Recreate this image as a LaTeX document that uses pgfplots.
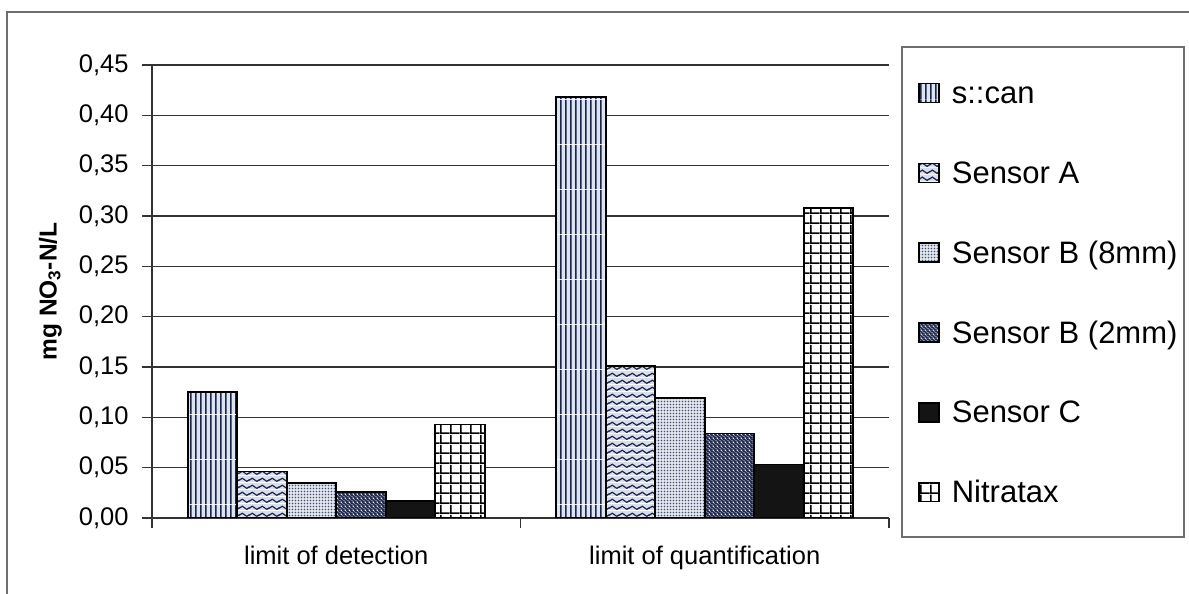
\documentclass[border=0pt]{standalone}
\usepackage{fontspec}
\setmainfont{Liberation Sans}
\usepackage{pgfplots}
\pgfplotsset{compat=1.18}
\usetikzlibrary{patterns}

\definecolor{axcol}{HTML}{333333}
\definecolor{framecol}{HTML}{6E6E6E}
\definecolor{navy}{HTML}{1C2448}
\definecolor{bgscan}{HTML}{DCE4F2}
\definecolor{bgA}{HTML}{D8DEEC}
\definecolor{bgB8}{HTML}{E2E7F0}
\definecolor{dotB8}{HTML}{48506E}
\definecolor{bgB2}{HTML}{8C92A8}

% patterns with their own colours (background + marks)
\pgfdeclarepatterninherentlycolored{scan}{\pgfqpoint{0pt}{0pt}}{\pgfqpoint{5pt}{45pt}}{\pgfqpoint{5pt}{45pt}}{%
  \pgfsetfillcolor{bgscan}\pgfpathrectangle{\pgfpointorigin}{\pgfqpoint{5pt}{45pt}}\pgfusepath{fill}%
  \pgfsetfillcolor{navy}\pgfpathrectangle{\pgfpointorigin}{\pgfqpoint{1.8pt}{45pt}}\pgfusepath{fill}}
\pgfdeclarepatterninherentlycolored{waves}{\pgfqpoint{0pt}{0pt}}{\pgfqpoint{10pt}{7pt}}{\pgfqpoint{10pt}{7pt}}{%
  \pgfsetfillcolor{bgA}\pgfpathrectangle{\pgfpointorigin}{\pgfqpoint{10pt}{7pt}}\pgfusepath{fill}%
  \pgfsetstrokecolor{navy}\pgfsetlinewidth{1.3pt}%
  \pgfpathmoveto{\pgfqpoint{-0.5pt}{2.3pt}}%
  \pgfpathlineto{\pgfqpoint{0pt}{2.5pt}}%
  \pgfpathsine{\pgfqpoint{2.5pt}{1.8pt}}%
  \pgfpathcosine{\pgfqpoint{2.5pt}{-1.8pt}}%
  \pgfpathsine{\pgfqpoint{2.5pt}{-1.8pt}}%
  \pgfpathcosine{\pgfqpoint{2.5pt}{1.8pt}}%
  \pgfpathlineto{\pgfqpoint{10.5pt}{2.7pt}}%
  \pgfusepath{stroke}}
\pgfdeclarepatterninherentlycolored{dotsB}{\pgfqpoint{0pt}{0pt}}{\pgfqpoint{3.4pt}{3.4pt}}{\pgfqpoint{3.4pt}{3.4pt}}{%
  \pgfsetfillcolor{bgB8}\pgfpathrectangle{\pgfpointorigin}{\pgfqpoint{3.4pt}{3.4pt}}\pgfusepath{fill}%
  \pgfsetfillcolor{dotB8}\pgfpathcircle{\pgfqpoint{1.7pt}{1.7pt}}{1.05pt}\pgfusepath{fill}}
\pgfdeclarepatterninherentlycolored{diagB}{\pgfqpoint{0pt}{0pt}}{\pgfqpoint{4pt}{4pt}}{\pgfqpoint{4pt}{4pt}}{%
  \pgfsetfillcolor{bgB2}\pgfpathrectangle{\pgfpointorigin}{\pgfqpoint{4pt}{4pt}}\pgfusepath{fill}%
  \pgfsetstrokecolor{navy}\pgfsetlinewidth{1.5pt}%
  \pgfpathmoveto{\pgfqpoint{-1pt}{5pt}}\pgfpathlineto{\pgfqpoint{5pt}{-1pt}}%
  \pgfpathmoveto{\pgfqpoint{-1pt}{1pt}}\pgfpathlineto{\pgfqpoint{1pt}{-1pt}}%
  \pgfpathmoveto{\pgfqpoint{3pt}{5pt}}\pgfpathlineto{\pgfqpoint{5pt}{3pt}}%
  \pgfusepath{stroke}}
\pgfdeclarepatterninherentlycolored{gridN}{\pgfqpoint{0pt}{0pt}}{\pgfqpoint{10pt}{10pt}}{\pgfqpoint{10pt}{10pt}}{%
  \pgfsetfillcolor{white}\pgfpathrectangle{\pgfpointorigin}{\pgfqpoint{10pt}{10pt}}\pgfusepath{fill}%
  \pgfsetfillcolor{black}%
  \pgfpathrectangle{\pgfpointorigin}{\pgfqpoint{10pt}{1.8pt}}%
  \pgfpathrectangle{\pgfpointorigin}{\pgfqpoint{1.8pt}{10pt}}\pgfusepath{fill}}

\begin{document}
\begin{tikzpicture}
\path[use as bounding box] (0,0) rectangle (1189pt,594pt);
\draw[line width=1.2pt, framecol] (7pt,-5pt) -- (7pt,582pt) -- (1195pt,582pt);
\draw[line width=1.2pt, framecol] (902pt,57pt) rectangle (1184pt,547pt);
\begin{axis}[
    at={(152pt,76pt)}, anchor=south west,
    scale only axis, width=737pt, height=453pt,
    ybar=0pt, bar width=49.5pt,
    xmin=-0.5, xmax=1.5, ymin=0, ymax=0.45,
    enlargelimits=false,
    axis x line*=bottom, axis y line*=left,
    axis line style={line width=1.3pt, color=axcol, -},
    tick style={line width=1.3pt, color=axcol},
    tick align=outside, major tick length=10pt,
    xtick={-0.5,0.5,1.5}, xticklabels={,,},
    extra x ticks={0,1},
    extra x tick labels={limit of detection, limit of quantification},
    extra x tick style={major tick length=0pt, grid=none,
                        xticklabel style={yshift=-24pt}},
    ytick={0,0.05,0.1,0.15,0.2,0.25,0.3,0.35,0.4,0.45},
    yticklabel style={/pgf/number format/.cd, fixed, fixed zerofill, precision=2, use comma,
                      /tikz/.cd, xshift=-10pt},
    /pgf/number format/assume math mode=true,
    tick label style={font=\fontsize{25.5}{29}\selectfont, text=black},
    ymajorgrids, major grid style={line width=1.3pt, color=axcol},
    ylabel={mg NO\textsubscript{3}-N/L},
    ylabel style={at={(axis description cs:-0.138,0.5)}, anchor=center,
                  font=\bfseries\fontsize{24.5}{28}\selectfont},
    legend image code/.code={\draw[#1] (0pt,-6pt) rectangle (20pt,13pt);},
    legend style={at={(1.0394,0.961)}, anchor=north west, draw=none, fill=none,
                  inner sep=0pt, row sep=53pt, column sep=12pt,
                  font=\fontsize{31}{36}\selectfont,
                  nodes={inner sep=0pt, text height=20pt, text depth=6pt}},
    legend cell align=left,
]
% s::can
\addplot[pattern=scan, draw=black, line width=1.6pt]
    coordinates {(0,0.125) (1,0.418)};
% Sensor A
\addplot[pattern=waves, draw=black, line width=1.6pt]
    coordinates {(0,0.046) (1,0.151)};
% Sensor B (8mm)
\addplot[pattern=dotsB, draw=black, line width=1.6pt]
    coordinates {(0,0.035) (1,0.119)};
% Sensor B (2mm)
\addplot[pattern=diagB, draw=black, line width=1.6pt]
    coordinates {(0,0.026) (1,0.084)};
% Sensor C
\addplot[fill=black!92, draw=black, line width=1.6pt]
    coordinates {(0,0.017) (1,0.053)};
% Nitratax
\addplot[pattern=gridN, draw=black, line width=1.6pt]
    coordinates {(0,0.093) (1,0.308)};
\legend{s::can, Sensor A, Sensor B (8mm), Sensor B (2mm), Sensor C, Nitratax}
\end{axis}
\end{tikzpicture}
\end{document}
